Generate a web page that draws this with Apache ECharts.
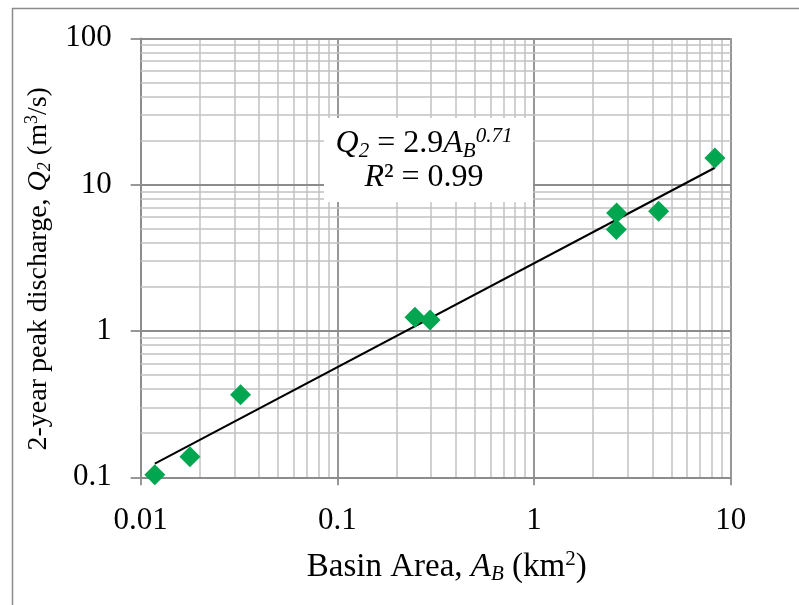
<!DOCTYPE html>
<html>
<head>
<meta charset="utf-8">
<script src="https://cdn.jsdelivr.net/npm/echarts@6/dist/echarts.min.js"></script>
<style>
  html, body { margin: 0; padding: 0; background: #fff; }
  #chart { width: 799px; height: 605px; }
</style>
</head>
<body>
<div id="chart"></div>
<script>
// Basin area (km²) and 2-year peak discharge (m³/s) for each gauged basin
var basinArea = [0.0118, 0.0178, 0.0322, 0.248, 0.296, 2.63, 2.62, 4.30, 8.31];
var peakQ2 = [0.104, 0.138, 0.366, 1.24, 1.19, 6.39, 4.94, 6.59, 15.2];

// Power-law fit Q2 = a * A^b
var fitCoef = 2.9;
var fitExp = 0.71;
var fitR2 = 0.99;

// Axis decades
var xDecades = [0.01, 0.1, 1, 10];
var yDecades = [0.1, 1, 10, 100];

var FONT = '"Liberation Serif", "Times New Roman", serif';
var MAJOR = '#8c8c8c';
var MINOR = '#c2c2c2';

// Fitted line over the observed range
var aMin = Math.min.apply(null, basinArea);
var aMax = Math.max.apply(null, basinArea);
var fitLine = [aMin, aMax].map(function (a) { return [a, fitCoef * Math.pow(a, fitExp)]; });

// Log grid: minor lines at 2..9 within each decade, major lines at decades
function gridLines(decades, key) {
  var minor = [], major = [];
  for (var i = 0; i < decades.length - 1; i++) {
    for (var k = 2; k <= 9; k++) {
      var o = {}; o[key] = k * decades[i];
      o.lineStyle = { color: MINOR, width: 1.5, type: 'solid' };
      minor.push(o);
    }
  }
  decades.forEach(function (d) {
    var o = {}; o[key] = d;
    o.lineStyle = { color: MAJOR, width: 1.8, type: 'solid' };
    major.push(o);
  });
  return minor.concat(major);
}

function titleRich(size) {
  var sub = Math.round(size * 0.65);
  return {
    i: { fontFamily: FONT, fontSize: size, fontStyle: 'italic', color: '#000' },
    sub: { fontFamily: FONT, fontSize: sub, fontStyle: 'italic', color: '#000', verticalAlign: 'bottom', padding: [Math.round(size * 0.45), 0, 0, 0] },
    sup: { fontFamily: FONT, fontSize: sub, color: '#000', verticalAlign: 'top', padding: [0, 0, Math.round(size * 0.4), 0] }
  };
}

var chart = echarts.init(document.getElementById('chart'));
chart.setOption({
  animation: false,
  backgroundColor: '#fff',
  grid: { left: 140.7, right: 68.3, top: 38.3, bottom: 127.7, containLabel: false },
  xAxis: {
    type: 'log', logBase: 10, min: 0.01, max: 10,
    splitLine: { show: false },
    axisLine: { show: true, lineStyle: { color: MAJOR, width: 1.8 } },
    axisTick: { show: true, inside: false, length: 8, lineStyle: { color: MAJOR, width: 1.8 } },
    minorTick: { show: false },
    axisLabel: {
      color: '#000', fontFamily: FONT, fontSize: 31, margin: 28,
      formatter: function (v) { return String(+v.toPrecision(3)); }
    },
    name: 'Basin Area, {i|A}{sub|B} (km{sup|2})',
    nameLocation: 'middle', nameGap: 72,
    nameTextStyle: {
      color: '#000', fontFamily: FONT, fontSize: 33,
      padding: [0, 0, 0, 22],
      rich: titleRich(33)
    }
  },
  yAxis: {
    type: 'log', logBase: 10, min: 0.1, max: 100,
    splitLine: { show: false },
    axisLine: { show: true, lineStyle: { color: MAJOR, width: 1.8 } },
    axisTick: { show: true, inside: false, length: 10, lineStyle: { color: MAJOR, width: 1.8 } },
    minorTick: { show: false },
    axisLabel: {
      color: '#000', fontFamily: FONT, fontSize: 31, margin: 29,
      formatter: function (v) { return String(+v.toPrecision(3)); }
    },
    name: '2-year peak discharge, {i|Q}{sub|2} (m{sup|3}/s)',
    nameLocation: 'middle', nameGap: 84,
    nameTextStyle: {
      color: '#000', fontFamily: FONT, fontSize: 28,
      padding: [0, 22, 0, 0],
      rich: titleRich(28)
    }
  },
  series: [
    {
      name: 'grid',
      type: 'line',
      data: [],
      z: 1,
      silent: true,
      markLine: {
        z: 1,
        silent: true,
        symbol: ['none', 'none'],
        label: { show: false },
        lineStyle: { type: 'solid' },
        emphasis: { disabled: true },
        data: gridLines(xDecades, 'xAxis').concat(gridLines(yDecades, 'yAxis'))
      }
    },
    {
      name: 'fit',
      type: 'line',
      data: fitLine,
      z: 3,
      symbol: 'none',
      silent: true,
      lineStyle: { color: '#000', width: 2 }
    },
    {
      name: 'observed',
      type: 'scatter',
      data: basinArea.map(function (a, i) { return [a, peakQ2[i]]; }),
      z: 4,
      symbol: 'diamond',
      symbolSize: 21,
      itemStyle: { color: '#00A650', opacity: 1 }
    }
  ],
  graphic: [
    {
      type: 'rect', z: 100, silent: true,
      shape: { x: 12.5, y: 8.5, width: 800, height: 620 },
      style: { fill: 'none', stroke: '#8c8c8c', lineWidth: 1.5 }
    },
    {
      type: 'rect', z: 100, silent: true,
      shape: { x: 324, y: 118, width: 209, height: 84 },
      style: { fill: '#fff' }
    },
    {
      type: 'text', z: 101, silent: true,
      x: 424, y: 160,
      style: {
        text: '{qi|Q}{sb|2}{n| = 2.9}{qi|A}{sbi|B}{sp|0.71}\n{qi|R}{n|² = 0.99}',
        align: 'center', verticalAlign: 'middle',
        fill: '#000',
        rich: {
          n: { fontFamily: FONT, fontSize: 32, lineHeight: 33, fill: '#000' },
          qi: { fontFamily: FONT, fontSize: 32, lineHeight: 33, fontStyle: 'italic', fill: '#000' },
          sb: { fontFamily: FONT, fontSize: 21, fontStyle: 'italic', fill: '#000', verticalAlign: 'bottom', padding: [15, 0, 0, 0] },
          sbi: { fontFamily: FONT, fontSize: 21, fontStyle: 'italic', fill: '#000', verticalAlign: 'bottom', padding: [15, 0, 0, 0] },
          sp: { fontFamily: FONT, fontSize: 21, fontStyle: 'italic', fill: '#000', verticalAlign: 'top', padding: [0, 0, 14, 0] }
        }
      }
    }
  ]
});
</script>
</body>
</html>
